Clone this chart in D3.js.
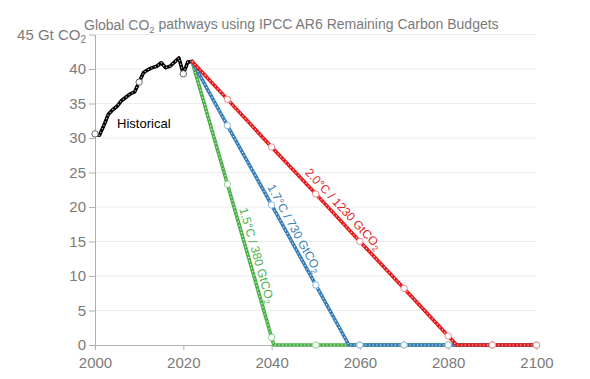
<!DOCTYPE html>
<html><head><meta charset="utf-8">
<script src="https://cdn.jsdelivr.net/npm/d3@7"></script>
<style>
body{margin:0;background:#fff}
svg{display:block;font-family:"Liberation Sans",Arial,Helvetica,sans-serif}
</style>
</head><body>
<svg id="chart" width="590" height="379"></svg>
<script>
// ---- data ----
const histYears  = [2000,2001,2002,2003,2004,2005,2006,2007,2008,2009,2010,2011,2012,2013,2014,2015,2016,2017,2018,2019,2020,2021,2022];
const histValues = [30.6,30.4,31.8,33.4,34.1,34.6,35.4,35.9,36.4,36.7,38.1,39.5,39.9,40.2,40.4,40.9,40.2,40.4,41.0,41.6,39.3,41.0,41.1];

const greenYears  = [2022,2030,2040,2040.5,2050,2060,2070,2080,2090,2100];
const greenValues = [41.1,23.3,1.1,0,0,0,0,0,0,0];
const blueYears   = [2022,2030,2040,2050,2057.5,2060,2070,2080,2090,2100];
const blueValues  = [41.1,31.8,20.3,8.7,0,0,0,0,0,0];
const redYears    = [2022,2030,2040,2050,2060,2070,2080,2081.9,2090,2100];
const redValues   = [41.1,35.6,28.7,21.9,15.0,8.2,1.3,0,0,0];

const seriesNames  = ["1.5°C / 380 GtCO", "1.7°C / 730 GtCO", "2.0°C / 1230 GtCO"];
const labelYears   = [2034.8, 2043.45, 2054.6];

const yTicks = [0,5,10,15,20,25,30,35,40,45];
const xTicks = [2000,2020,2040,2060,2080,2100];
const titleParts = ["Global CO", "2", " pathways using IPCC AR6 Remaining Carbon Budgets"];
const unitParts  = ["45 Gt CO", "2"];
const histLabel  = "Historical";
const histLabelAt = [2005, 31.5];

// ---- setup ----
const svg = d3.select("#chart");
const x = d3.scaleLinear().domain([2000,2100]).range([95,536.5]);
const y = d3.scaleLinear().domain([0,45]).range([345,34.5]);

function subText(sel, parts, subSize){
  sel.append("tspan").text(parts[0]);
  sel.append("tspan").attr("font-size", subSize).attr("dy", "0.3em").text(parts[1]);
  if (parts[2] !== undefined) sel.append("tspan").attr("dy", "-0.25em").text(parts[2]);
}

// gridlines
svg.append("g").selectAll("line").data(yTicks.filter(d=>d>0)).join("line")
  .attr("x1", x(2000)).attr("x2", x(2100))
  .attr("y1", d=>y(d)).attr("y2", d=>y(d))
  .attr("stroke", "#ececec").attr("stroke-width", 1);

// axes
const yAxis = svg.append("g").attr("transform", `translate(${x(2000)},0)`)
  .call(d3.axisLeft(y).tickValues(yTicks).tickSize(6).tickSizeOuter(0).tickPadding(3));
const xAxis = svg.append("g").attr("transform", `translate(0,${y(0)})`)
  .call(d3.axisBottom(x).tickValues(xTicks).tickFormat(d3.format("d")).tickSize(5).tickSizeOuter(0).tickPadding(7));
[yAxis, xAxis].forEach(a=>{
  a.select(".domain").attr("stroke", "#b0b0b0");
  a.selectAll(".tick line").attr("stroke", "#b0b0b0");
  a.selectAll(".tick text").attr("fill", "#7a7a7a").attr("font-size", 15)
    .attr("font-family", '"Liberation Sans",Arial,Helvetica,sans-serif');
});
// unit label on top tick
yAxis.selectAll(".tick").filter(d=>d===45).select("text").text(null).call(s=>subText(s, unitParts, 10));

// title
const title = svg.append("text").attr("x", 84).attr("y", 30)
  .attr("fill", "#7a7a7a").attr("font-size", 14);
subText(title, titleParts, 9.5);

// lines
const line = d3.line().x(d=>x(d[0])).y(d=>y(d[1]));
const zip = (a,b)=>a.map((v,i)=>[v,b[i]]);
const series = [
  {pts: zip(histYears, histValues), color: "#000000", mark: "#666666"},
  {pts: zip(greenYears, greenValues), color: "#4daf4a", mark: "#8fd08c"},
  {pts: zip(blueYears, blueValues), color: "#377eb8", mark: "#8fb8dd"},
  {pts: zip(redYears, redValues), color: "#e41a1c", mark: "#f08a8b"}
];
series.forEach(s=>{
  svg.append("path").datum(s.pts).attr("d", line)
    .attr("fill","none").attr("stroke", s.color).attr("stroke-width", 3.6)
    .attr("stroke-linejoin","round").attr("stroke-linecap","round");
  svg.append("path").datum(s.pts).attr("d", line)
    .attr("fill","none").attr("stroke", "#fff").attr("stroke-width", 1.1)
    .attr("stroke-dasharray", "1.1,2.6").attr("opacity", 0.9);
});
series.forEach(s=>{
  svg.append("g").selectAll("circle").data(s.pts.filter(p=>p[0]%10===0)).join("circle")
    .attr("cx", d=>x(d[0])).attr("cy", d=>y(d[1])).attr("r", 3.2)
    .attr("fill", "#fff").attr("stroke", s.mark).attr("stroke-width", 1);
});

// pathway labels
function pointAt(pts, yr){
  for (let i=0;i<pts.length-1;i++){
    const a=pts[i], b=pts[i+1];
    if (yr>=a[0] && yr<=b[0]){
      const t=(yr-a[0])/(b[0]-a[0]);
      const v=a[1]+t*(b[1]-a[1]);
      const ang=Math.atan2(y(b[1])-y(a[1]), x(b[0])-x(a[0]))*180/Math.PI;
      return [x(yr), y(v), ang];
    }
  }
}
const offsets = [-4.5, -4.5, -6];
[1,2,3].forEach((k,i)=>{
  const s=series[k];
  const p=pointAt(s.pts, labelYears[i]);
  const t=svg.append("text")
    .attr("transform", `translate(${p[0]},${p[1]}) rotate(${p[2]}) translate(0,${offsets[i]})`)
    .attr("text-anchor","middle").attr("fill", s.color).attr("font-size", 12);
  subText(t, [seriesNames[i], "2"], 8.5);
});

svg.append("text").attr("x", x(histLabelAt[0])).attr("y", y(histLabelAt[1]))
  .attr("fill","#000").attr("font-size", 13).text(histLabel);
</script>
</body></html>
